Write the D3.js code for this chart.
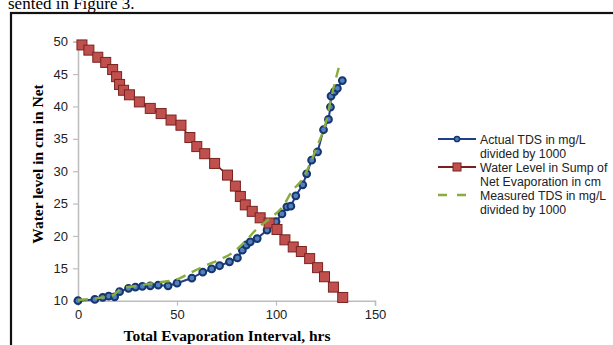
<!DOCTYPE html>
<html>
<head>
<meta charset="utf-8">
<script src="https://cdn.jsdelivr.net/npm/d3@7"></script>
<style>
  body { margin: 0; background: #fff; }
  svg { display: block; }
</style>
</head>
<body>
<svg id="chart" width="613" height="345"></svg>
<script>
// water level in sump (cm) vs hours
const levelHrs = [2, 5.5, 10, 14, 17.5, 19.5, 21, 23, 26, 31, 36.5, 42, 47, 52, 56.5, 60, 64, 69, 75.5, 79.5,
  82, 84.5, 88, 92, 96.5, 100.5, 104.5, 108.7, 112.8, 117, 121, 124.5, 129, 133.7];
const levelCm = [49.5, 48.7, 47.6, 46.8, 45.7, 44.6, 43.4, 42.5, 41.8, 40.7, 39.7, 38.9, 37.9, 37.1, 35.2, 33.8, 32.7, 31.2, 29.4, 27.7,
  26.1, 24.8, 23.8, 22.8, 22.0, 21.0, 19.4, 18.3, 17.6, 16.5, 15.1, 13.7, 12.1, 10.5];

// actual TDS / 1000
const actualHrs = [0, 8.5, 12.5, 15.5, 18.5, 21, 25.5, 29, 32.5, 36.5, 40.5, 45.5, 50, 57.5, 63, 67.5, 71.5, 76.5, 80.5, 83,
  85, 87, 90.5, 95.5, 100, 103, 105.5, 107.5, 110, 113.5, 115.5, 118, 121, 124, 126.5, 127.5, 127.8, 129.5, 131, 133.5];
const actualTds = [10.0, 10.2, 10.5, 10.7, 10.6, 11.4, 11.9, 12.1, 12.2, 12.3, 12.4, 12.3, 12.7, 13.5, 14.4, 14.9, 15.4, 16.0, 16.6, 17.8,
  18.6, 19.1, 19.6, 20.9, 22.2, 23.4, 24.5, 24.6, 26.2, 27.9, 29.6, 31.7, 33.0, 36.4, 38.0, 39.9, 41.6, 42.3, 42.8, 44.0];

// measured TDS / 1000
const measuredHrs = [0, 10, 18, 22, 30, 40, 50, 58, 65, 72, 78, 84, 90, 96, 104, 108, 113, 117, 121, 125.5, 128, 130, 132.3];
const measuredTds = [10.1, 10.4, 10.9, 11.9, 12.3, 12.8, 13.3, 14.5, 15.5, 16.4, 17.4, 19.0, 21.0, 22.5, 24.8, 26.9, 28.6, 31.0, 34.0, 37.9, 41.5, 44.0, 46.7];

const xTicks = [0, 50, 100, 150];
const yTicks = [10, 15, 20, 25, 30, 35, 40, 45, 50];

const legendLabels = [
  ["Actual TDS in mg/L", "divided by 1000"],
  ["Water Level in Sump of", "Net Evaporation in cm"],
  ["Measured TDS in mg/L", "divided by 1000"]
];

const svg = d3.select("#chart");

// frame + caption text above it (top half cut off like the scan)
svg.append("text").attr("x", 8).attr("y", 9)
  .attr("font-family", "Liberation Serif, serif").attr("font-size", 17)
  .text("sented in Figure 3.");
svg.append("rect").attr("x", 11).attr("y", 13).attr("width", 640).attr("height", 360)
  .attr("fill", "none").attr("stroke", "#111").attr("stroke-width", 2.2);

const x = d3.scaleLinear().domain([0, 150]).range([78, 375]);
const y = d3.scaleLinear().domain([10, 50]).range([300.7, 41.7]);

// axes
const xAxis = svg.append("g").attr("transform", "translate(0," + y(10) + ")")
  .call(d3.axisBottom(x).tickValues(xTicks).tickSize(5).tickPadding(4));
const yAxis = svg.append("g").attr("transform", "translate(" + x(0) + ",0)")
  .call(d3.axisLeft(y).tickValues(yTicks).tickSize(5).tickPadding(5));
[xAxis, yAxis].forEach(a => {
  a.select(".domain").attr("stroke", "#bdbdbd").attr("stroke-width", 1.5);
  a.selectAll(".tick line").attr("stroke", "#bdbdbd").attr("stroke-width", 1.2);
  a.selectAll(".tick text").attr("font-family", "Liberation Sans, Arial, sans-serif")
    .attr("font-size", 13).attr("fill", "#222");
});

// axis titles
svg.append("text").attr("x", 227).attr("y", 341).attr("text-anchor", "middle")
  .attr("font-family", "Liberation Serif, serif").attr("font-weight", "bold").attr("font-size", 15.5)
  .text("Total Evaporation Interval, hrs");
svg.append("text").attr("transform", "translate(43,164) rotate(-90)").attr("text-anchor", "middle")
  .attr("font-family", "Liberation Serif, serif").attr("font-weight", "bold").attr("font-size", 15.5)
  .text("Water level in cm in Net");

const line = d3.line().x(d => x(d[0])).y(d => y(d[1]));

// actual TDS series
const actual = actualHrs.map((h, i) => [h, actualTds[i]]);
svg.append("path").datum(actual).attr("d", line)
  .attr("fill", "none").attr("stroke", "#1f3f8a").attr("stroke-width", 2);
svg.append("g").selectAll("circle").data(actual).enter().append("circle")
  .attr("cx", d => x(d[0])).attr("cy", d => y(d[1])).attr("r", 3.4)
  .attr("fill", "#4f81bd").attr("stroke", "#17356e").attr("stroke-width", 2);

// water level series
const level = levelHrs.map((h, i) => [h, levelCm[i]]);
svg.append("path").datum(level).attr("d", line)
  .attr("fill", "none").attr("stroke", "#7a1f1f").attr("stroke-width", 1.5);
svg.append("g").selectAll("rect").data(level).enter().append("rect")
  .attr("x", d => x(d[0]) - 5).attr("y", d => y(d[1]) - 5).attr("width", 10).attr("height", 10)
  .attr("fill", "#c0504d").attr("stroke", "#7a2220").attr("stroke-width", 1);

// measured TDS series
const measured = measuredHrs.map((h, i) => [h, measuredTds[i]]);
svg.append("path").datum(measured).attr("d", line.curve(d3.curveMonotoneX))
  .attr("fill", "none").attr("stroke", "#8aac3c").attr("stroke-width", 2.4)
  .attr("stroke-dasharray", "10,7");

// legend
const lg = svg.append("g");
const lgX0 = 438, lgX1 = 476, lgY = [139, 167, 195];
lgY.forEach((ly, i) => {
  if (i === 0) {
    lg.append("line").attr("x1", lgX0).attr("x2", lgX1).attr("y1", ly).attr("y2", ly)
      .attr("stroke", "#1f3f8a").attr("stroke-width", 2);
    lg.append("circle").attr("cx", (lgX0 + lgX1) / 2).attr("cy", ly).attr("r", 2.6)
      .attr("fill", "#4f81bd").attr("stroke", "#17356e").attr("stroke-width", 1.5);
  } else if (i === 1) {
    lg.append("line").attr("x1", lgX0).attr("x2", lgX1).attr("y1", ly).attr("y2", ly)
      .attr("stroke", "#7a1f1f").attr("stroke-width", 2);
    lg.append("rect").attr("x", (lgX0 + lgX1) / 2 - 4).attr("y", ly - 4).attr("width", 8).attr("height", 8)
      .attr("fill", "#c0504d").attr("stroke", "#7a2220").attr("stroke-width", 1);
  } else {
    lg.append("line").attr("x1", lgX0).attr("x2", lgX1).attr("y1", ly).attr("y2", ly)
      .attr("stroke", "#8aac3c").attr("stroke-width", 2.4).attr("stroke-dasharray", "9,10");
  }
  legendLabels[i].forEach((t, j) => {
    lg.append("text").attr("x", 480).attr("y", ly + 4.5 + j * 14)
      .attr("font-family", "Liberation Sans, Arial, sans-serif").attr("font-size", 12.3).attr("fill", "#222")
      .text(t);
  });
});
</script>
</body>
</html>
